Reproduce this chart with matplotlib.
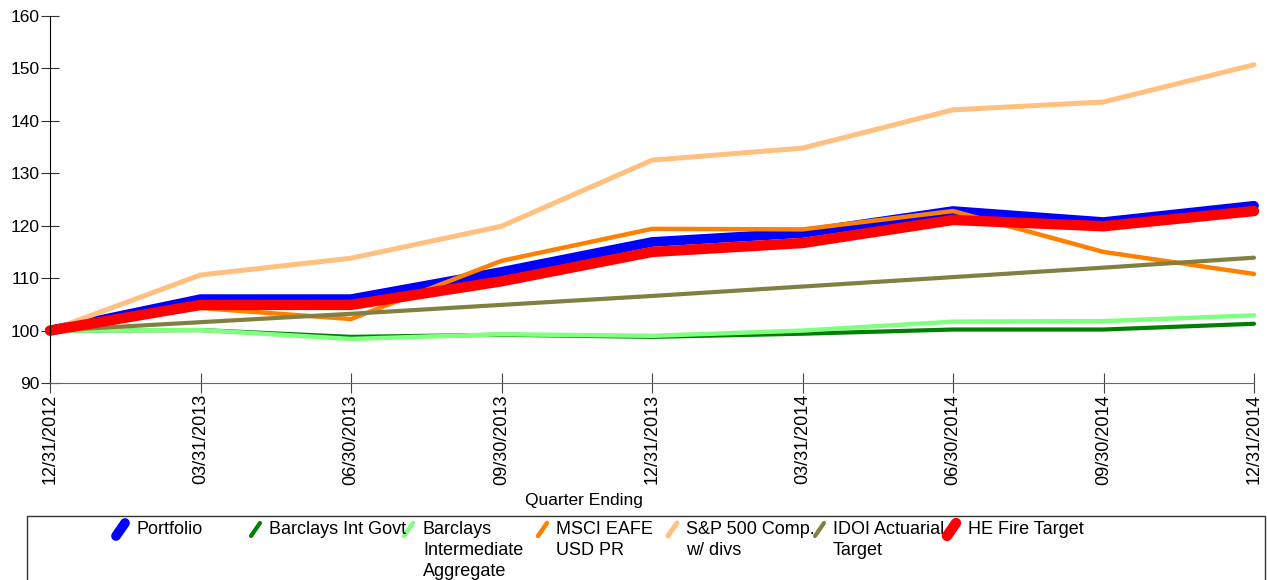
import matplotlib.pyplot as plt
from matplotlib.lines import Line2D
from matplotlib.patches import Rectangle

plt.rcParams['font.family'] = ['Liberation Sans', 'DejaVu Sans']

quarters = ["12/31/2012", "03/31/2013", "06/30/2013", "09/30/2013", "12/31/2013",
            "03/31/2014", "06/30/2014", "09/30/2014", "12/31/2014"]

portfolio = [100, 106.0, 106.0, 111.2, 116.9, 118.6, 122.8, 120.7, 123.8]
barclays_govt = [100, 100.1, 98.8, 99.2, 98.8, 99.4, 100.2, 100.2, 101.3]
barclays_agg = [100, 100.1, 98.4, 99.3, 99.0, 100.0, 101.7, 101.8, 102.9]
msci_eafe = [100, 104.3, 102.2, 113.3, 119.4, 119.3, 122.8, 115.0, 110.8]
sp500 = [100, 110.6, 113.8, 119.9, 132.5, 134.8, 142.1, 143.6, 150.7]
idoi_target = [100, 101.6, 103.2, 104.9, 106.6, 108.4, 110.2, 112.0, 113.9]
he_fire = [100, 104.9, 104.9, 109.4, 115.0, 116.7, 121.1, 119.9, 122.8]

labels = ["Portfolio", "Barclays Int Govt", "Barclays\nIntermediate\nAggregate",
          "MSCI EAFE\nUSD PR", "S&P 500 Comp.\nw/ divs", "IDOI Actuarial\nTarget",
          "HE Fire Target"]
series = [portfolio, barclays_govt, barclays_agg, msci_eafe, sp500, idoi_target, he_fire]
colors = ["#0000FF", "#008000", "#80FF80", "#FF8000", "#FFC080", "#808040", "#FF0000"]
widths = [7, 3, 3.2, 3.2, 3.6, 3, 7.5]

W, H = 1267, 580
fig = plt.figure(figsize=(W / 100, H / 100), dpi=100)
ax = fig.add_axes([50 / W, 1 - 383 / H, (1254 - 50) / W, (383 - 16) / H])

x = list(range(len(quarters)))
for vals, c, lw in zip(series, colors, widths):
    ax.plot(x, vals, color=c, lw=lw, solid_capstyle='round',
            solid_joinstyle='round', clip_on=False)

ax.set_xlim(0, len(quarters) - 1)
ax.set_ylim(90, 160)
ax.set_yticks(range(90, 161, 10))
ax.set_xticks(x)
ax.set_xticklabels(quarters, rotation=90, fontsize=13)
ax.tick_params(axis='y', direction='inout', length=13, labelsize=12.5, pad=1, color='#333333')
ax.tick_params(axis='x', direction='inout', length=14, pad=1, color='#444444')
for s in ['top', 'right']:
    ax.spines[s].set_visible(False)
ax.spines['left'].set_color('black')
ax.spines['bottom'].set_color('#666666')

fig.text(584 / W, 1 - 501 / H, "Quarter Ending", ha='center', va='center', fontsize=12.5)

# legend box drawn by hand
fig.add_artist(Rectangle((27 / W, -0.05), (1265 - 27) / W, 0.05 + (H - 516) / H,
                         transform=fig.transFigure, fill=False, ec='#333333', lw=1))
handle_x = [113, 248, 401, 535, 665, 812, 944]
text_x = [137, 269, 423, 556, 686, 833, 968]
for hx, tx, lab, c, lw in zip(handle_x, text_x, labels, colors, widths):
    fig.add_artist(Line2D([(hx + 3) / W, (hx + 12) / W], [1 - 536 / H, 1 - 523 / H],
                          transform=fig.transFigure, color=c, lw=lw,
                          solid_capstyle='round'))
    fig.text(tx / W, 1 - 521 / H, lab, ha='left', va='top', fontsize=13, linespacing=1.3)

fig.savefig("out.png", dpi=100)
